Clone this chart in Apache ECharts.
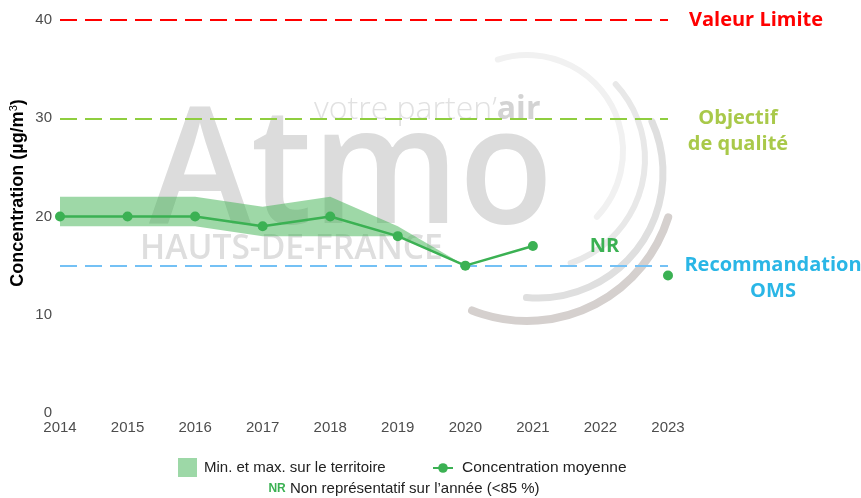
<!DOCTYPE html>
<html>
<head>
<meta charset="utf-8">
<script src="https://cdn.jsdelivr.net/npm/echarts@6/dist/echarts.min.js"></script>
<style>
  html, body { margin: 0; padding: 0; background: #fff; }
  #myChart { width: 861px; height: 498px; }
</style>
</head>
<body>
<div id="myChart"></div>
<script>
// données
var years = ["2014", "2015", "2016", "2017", "2018", "2019", "2020", "2021", "2022", "2023"];
var meanValues = [20, 20, 20, 19, 20, 18, 15, 17, null, 14];
var minValues = [19, 19, 19, 18, 18, 18, 15, null, null, null];
var maxValues = [22, 22, 22, 21, 22, 19, 15, null, null, null];
var yTicks = [0, 10, 20, 30, 40];
// seuils réglementaires
var valeurLimite = 40;
var objectifQualite = 30;
var recommandationOMS = 15;
var nrYear = "2022";
var nrLevel = 17;

var green = "#3bb153";
var bandDiff = maxValues.map(function (v, i) {
  return v == null ? null : v - minValues[i];
});

var myChart = echarts.init(document.getElementById("myChart"), null, { renderer: "canvas" });

var option = {
  animation: false,
  textStyle: { fontFamily: "Liberation Sans, Arial, sans-serif" },
  grid: { left: 60, right: 193, top: 20, bottom: 85, containLabel: false },
  xAxis: {
    type: "category",
    boundaryGap: false,
    data: years,
    axisLine: { show: false },
    axisTick: { show: false },
    axisLabel: { color: "#4d4d4d", fontSize: 15, margin: 7 }
  },
  yAxis: {
    type: "value",
    min: yTicks[0],
    max: yTicks[yTicks.length - 1],
    interval: 10,
    splitLine: { show: false },
    axisLine: { show: false },
    axisTick: { show: false },
    axisLabel: { color: "#4d4d4d", fontSize: 15, margin: 8 }
  },
  legend: [
    {
      data: [{ name: "Min. et max. sur le territoire", icon: "rect" }],
      left: 178,
      top: 458,
      padding: 0,
      itemWidth: 19,
      itemHeight: 19,
      textStyle: { fontSize: 15, color: "#222", padding: [0, 0, 0, 2] }
    },
    {
      data: ["Concentration moyenne"],
      left: 432,
      top: 460,
      padding: 0,
      itemWidth: 20,
      itemHeight: 12,
      textStyle: { fontSize: 15.5, color: "#222", padding: [0, 0, 0, 4] }
    }
  ],
  graphic: [
    // filigrane Atmo
    {
      type: "group",
      z: -10,
      silent: true,
      children: [
        {
          type: "text",
          x: 149, y: 176,
          scaleX: 0.94,
          style: {
            text: "Atmo",
            fill: "#dcdcdc",
            font: "600 164px 'Open Sans', sans-serif",
            verticalAlign: "middle"
          }
        },
        {
          type: "text",
          x: 314, y: 110,
          style: {
            text: "{a|votre parten’}{b|air}",
            verticalAlign: "middle",
            rich: {
              a: { fill: "#e1e1e1", font: "300 32px 'Open Sans', sans-serif" },
              b: { fill: "#d3d3d3", font: "bold 32px 'Open Sans', sans-serif" }
            }
          }
        },
        {
          type: "text",
          x: 140, y: 249,
          scaleX: 0.96,
          style: {
            text: "HAUTS-DE-FRANCE",
            fill: "#dedede",
            font: "600 35px 'Open Sans', sans-serif",
            verticalAlign: "middle"
          }
        },
        {
          type: "arc",
          shape: { cx: 527, cy: 151, r: 96, startAngle: -107.7 * Math.PI / 180, endAngle: 43.3 * Math.PI / 180 },
          style: { stroke: "#f1f1f1", lineWidth: 6, fill: null, lineCap: "round" }
        },
        {
          type: "arc",
          shape: { cx: 535, cy: 159, r: 110, startAngle: -42.8 * Math.PI / 180, endAngle: 71.1 * Math.PI / 180 },
          style: { stroke: "#e8e8e8", lineWidth: 6, fill: null, lineCap: "round" }
        },
        {
          type: "arc",
          shape: { cx: 538, cy: 173, r: 125, startAngle: -24.3 * Math.PI / 180, endAngle: 95.3 * Math.PI / 180 },
          style: { stroke: "#dfdfdf", lineWidth: 7, fill: null, lineCap: "round" }
        },
        {
          type: "arc",
          shape: { cx: 527, cy: 173, r: 148, startAngle: 17.4 * Math.PI / 180, endAngle: 111.8 * Math.PI / 180 },
          style: { stroke: "#d5d0ce", lineWidth: 8, fill: null, lineCap: "round" }
        }
      ]
    },
    // titre axe y
    {
      type: "text",
      x: 18, y: 193,
      rotation: Math.PI / 2,
      style: {
        text: "Concentration (µg/m{sup|3})",
        fill: "#000",
        font: "bold 18px 'Liberation Sans', Arial, sans-serif",
        align: "center",
        verticalAlign: "middle",
        rich: {
          sup: { font: "11px 'Liberation Sans', Arial", fill: "#000", verticalAlign: "bottom", padding: [0, 0, 8, 0] }
        }
      }
    },
    // note NR
    {
      type: "text",
      x: 404, y: 489,
      style: {
        text: "{nr|NR} Non représentatif sur l’année (<85 %)",
        fill: "#222",
        font: "15px 'Liberation Sans', Arial, sans-serif",
        align: "center",
        verticalAlign: "middle",
        rich: {
          nr: { fill: green, font: "bold 12px 'Liberation Sans', Arial, sans-serif" }
        }
      }
    }
  ],
  series: [
    {
      name: "min",
      type: "line",
      stack: "band",
      data: minValues,
      symbol: "none",
      lineStyle: { opacity: 0 },
      silent: true,
      z: 1
    },
    {
      name: "Min. et max. sur le territoire",
      type: "line",
      stack: "band",
      data: bandDiff,
      symbol: "none",
      color: "#9dd8a7",
      lineStyle: { opacity: 0 },
      areaStyle: { color: "rgba(61,177,80,0.5)", opacity: 1 },
      silent: true,
      z: 1,
      markLine: {
        silent: true,
        symbol: "none",
        data: [
          {
            yAxis: valeurLimite,
            lineStyle: { color: "#ff0000", type: [17, 8], width: 2 },
            label: {
              show: true, position: "end", formatter: "Valeur Limite", distance: 88, align: "center",
              color: "#ff0000", fontSize: 20, fontWeight: "bold", fontFamily: "'Open Sans', sans-serif"
            }
          },
          {
            yAxis: objectifQualite,
            lineStyle: { color: "#8fce3f", type: [17, 8], width: 2 },
            label: {
              show: true, position: "end", formatter: " \nObjectif\nde qualité", distance: 70, align: "center",
              color: "#a9c94a", fontSize: 20, fontWeight: "bold", lineHeight: 26,
              fontFamily: "'Open Sans', sans-serif"
            }
          },
          {
            yAxis: recommandationOMS,
            lineStyle: { color: "#74c1f5", type: [17, 8], width: 2 },
            label: {
              show: true, position: "end", formatter: " \nRecommandation\nOMS", distance: 105, align: "center",
              color: "#2ab6e6", fontSize: 20, fontWeight: "bold", lineHeight: 26,
              fontFamily: "'Open Sans', sans-serif"
            }
          }
        ]
      }
    },
    {
      name: "Concentration moyenne",
      type: "line",
      data: meanValues,
      color: green,
      symbol: "circle",
      symbolSize: 10,
      showAllSymbol: true,
      connectNulls: false,
      lineStyle: { width: 2.5, color: green },
      itemStyle: { color: green },
      z: 5,
      markPoint: {
        silent: true,
        symbol: "circle",
        symbolSize: 0,
        data: [{ coord: [nrYear, nrLevel] }],
        label: {
          show: true, position: "inside", formatter: "NR", offset: [4, 0],
          color: green, fontSize: 20, fontWeight: "bold", fontFamily: "'Open Sans', sans-serif"
        }
      }
    }
  ]
};

myChart.setOption(option);
</script>
</body>
</html>
